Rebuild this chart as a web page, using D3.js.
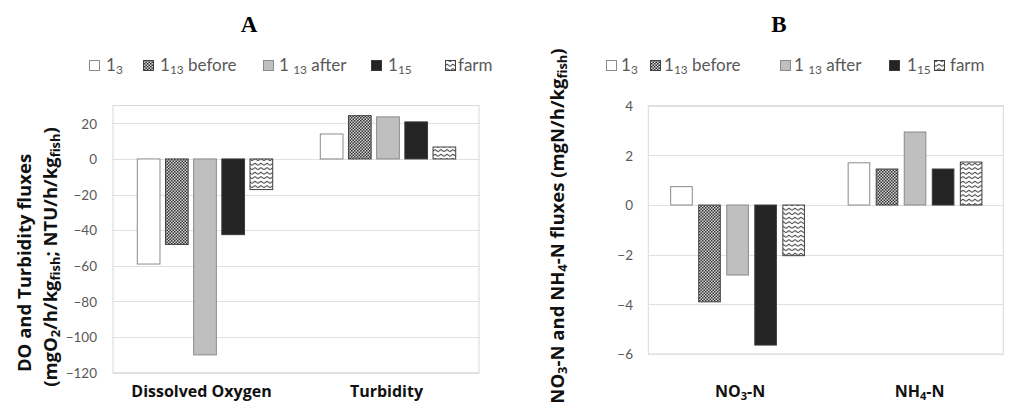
<!DOCTYPE html>
<html>
<head>
<meta charset="utf-8">
<script src="https://cdn.jsdelivr.net/npm/d3@7"></script>
<style>
  html, body { margin: 0; padding: 0; background: #fff; }
  svg { display: block; }
</style>
</head>
<body>
<svg id="chart" width="1021" height="412"></svg>
<script>
// ---------- DATA ----------
const seriesKeys = ["s3", "s13before", "s13after", "s15", "farm"];
const legendLabels = [
  [{t: "1"}, {t: "3", sub: true}],
  [{t: "1"}, {t: "13", sub: true}, {t: " before"}],
  [{t: "1 "}, {t: "13", sub: true}, {t: " after"}],
  [{t: "1"}, {t: "15", sub: true}],
  [{t: "farm"}]
];

const categoriesA = ["Dissolved Oxygen", "Turbidity"];
const valuesA_s3        = [-59, 14];
const valuesA_s13before = [-48, 24.3];
const valuesA_s13after  = [-110, 23.6];
const valuesA_s15       = [-42.5, 20.8];
const valuesA_farm      = [-17.2, 6.7];
const ticksA = [-120, -100, -80, -60, -40, -20, 0, 20];

const categoriesB = ["NO3-N", "NH4-N"];
const categoryLabelsB = [
  [{t: "NO"}, {t: "3", sub: true}, {t: "-N"}],
  [{t: "NH"}, {t: "4", sub: true}, {t: "-N"}]
];
const valuesB_s3        = [0.74, 1.70];
const valuesB_s13before = [-3.9, 1.45];
const valuesB_s13after  = [-2.82, 2.94];
const valuesB_s15       = [-5.64, 1.45];
const valuesB_farm      = [-2.04, 1.73];
const ticksB = [-6, -4, -2, 0, 2, 4];

// ---------- STYLE ----------
const svg = d3.select("#chart");
const defs = svg.append("defs");

// checker pattern (1_13 before)
const pChk = defs.append("pattern").attr("id", "pChk").attr("patternUnits", "userSpaceOnUse")
  .attr("width", 3).attr("height", 3);
pChk.append("rect").attr("width", 3).attr("height", 3).attr("fill", "#d4d4d4");
pChk.append("rect").attr("x", 0).attr("y", 0).attr("width", 1.5).attr("height", 1.5).attr("fill", "#333");
pChk.append("rect").attr("x", 1.5).attr("y", 1.5).attr("width", 1.5).attr("height", 1.5).attr("fill", "#333");

// zigzag pattern (farm)
const pZig = defs.append("pattern").attr("id", "pZig").attr("patternUnits", "userSpaceOnUse")
  .attr("width", 6).attr("height", 4.5);
pZig.append("rect").attr("width", 6).attr("height", 4.5).attr("fill", "#fff");
pZig.append("path").attr("d", "M0,3.2 L3,1.2 L6,3.2").attr("fill", "none")
  .attr("stroke", "#222").attr("stroke-width", 1);

const fills = {s3: "#ffffff", s13before: "url(#pChk)", s13after: "#bfbfbf", s15: "#242424", farm: "url(#pZig)"};
const strokes = {s3: "#8a8a8a", s13before: "#404040", s13after: "#8a8a8a", s15: "#3a3a3a", farm: "#404040"};

function rich(sel, parts) {
  parts.forEach(p => {
    const ts = sel.append("tspan").text(p.t);
    if (p.sub) ts.attr("baseline-shift", "-0.25em").attr("font-size", "70%");
  });
  return sel;
}

function drawChart(cfg) {
  const g = svg.append("g");
  const {x0, x1, y0, y1} = cfg.box;
  const y = d3.scaleLinear().domain(cfg.domain).range([y1, y0]);
  const xBand = d3.scaleBand().domain(cfg.categories).range([x0, x1])
    .paddingInner(cfg.groupPad).paddingOuter(cfg.groupPad / 2);
  const xSeries = d3.scaleBand().domain(seriesKeys).range([0, xBand.bandwidth()])
    .paddingInner(cfg.barPad).paddingOuter(cfg.barPad / 2);

  // plot border
  g.append("rect").attr("x", x0).attr("y", y0).attr("width", x1 - x0).attr("height", y1 - y0)
    .attr("fill", "none").attr("stroke", "#d9d9d9").attr("stroke-width", 1);

  // gridlines
  g.selectAll("line.grid").data(cfg.ticks).join("line")
    .attr("x1", x0).attr("x2", x1)
    .attr("y1", d => Math.round(y(d)) + 0.5).attr("y2", d => Math.round(y(d)) + 0.5)
    .attr("stroke", "#e0e0e0").attr("stroke-width", 1);

  // y axis via d3.axisLeft
  const axis = d3.axisLeft(y).tickValues(cfg.ticks).tickSize(0).tickPadding(0).tickFormat(d3.format("d"));
  const ag = g.append("g").attr("transform", `translate(${cfg.tickX},0)`).call(axis);
  ag.select(".domain").remove();
  ag.selectAll("text").attr("font-family", "Lato, 'Open Sans', sans-serif").attr("font-size", 13.5)
    .attr("fill", "#595959").attr("dy", "0.35em").attr("text-anchor", "end").attr("x", 0);

  // bars
  seriesKeys.forEach(k => {
    const vals = cfg.values[k];
    g.selectAll(null).data(cfg.categories.map((c, i) => ({c, v: vals[i]}))).join("rect")
      .attr("x", d => xBand(d.c) + xSeries(k) + 0.5)
      .attr("width", xSeries.bandwidth())
      .attr("y", d => y(Math.max(0, d.v)))
      .attr("height", d => Math.abs(y(d.v) - y(0)))
      .attr("fill", fills[k]).attr("stroke", strokes[k]).attr("stroke-width", 1);
  });

  // category labels
  cfg.categories.forEach((c, i) => {
    const t = g.append("text").attr("x", xBand(c) + xBand.bandwidth() / 2 + cfg.catDx[i]).attr("y", cfg.catY)
      .attr("text-anchor", "middle").attr("font-family", "'Open Sans', sans-serif")
      .attr("font-weight", "bold").attr("font-size", 16).attr("fill", "#111");
    rich(t, cfg.catLabels ? cfg.catLabels[i] : [{t: c}]);
  });

  // legend
  cfg.legend.forEach((L, i) => {
    const k = seriesKeys[i];
    g.append("rect").attr("x", L.sx + 0.5).attr("y", 60.5).attr("width", 10).attr("height", 10)
      .attr("fill", fills[k]).attr("stroke", strokes[k]);
    const t = g.append("text").attr("x", L.tx).attr("y", 71)
      .attr("font-family", "Lato, 'Open Sans', sans-serif").attr("font-size", 17).attr("fill", "#595959");
    rich(t, legendLabels[i]);
  });

  // panel title
  g.append("text").attr("x", cfg.titleX).attr("y", 32).attr("text-anchor", "middle")
    .attr("font-family", "'Liberation Serif', 'Times New Roman', serif").attr("font-weight", "bold")
    .attr("font-size", 23).attr("fill", "#000").text(cfg.title);

  // y-axis titles
  cfg.yTitles.forEach(yt => {
    const t = g.append("text").attr("transform", `translate(${yt.x},${yt.y}) rotate(-90)`)
      .attr("text-anchor", "middle").attr("font-family", "'Open Sans', sans-serif")
      .attr("font-weight", "bold").attr("font-size", yt.size).attr("fill", "#111");
    rich(t, yt.parts);
  });
}

drawChart({
  title: "A", titleX: 249,
  box: {x0: 113, x1: 479, y0: 105.5, y1: 372.7},
  domain: [-120, 30], ticks: ticksA, tickX: 97,
  categories: categoriesA, catDx: [-3, -1],
  values: {s3: valuesA_s3, s13before: valuesA_s13before, s13after: valuesA_s13after, s15: valuesA_s15, farm: valuesA_farm},
  groupPad: 0.23, barPad: 0.195, catY: 397,
  legend: [{sx: 89, tx: 106}, {sx: 143, tx: 160}, {sx: 263, tx: 279}, {sx: 371, tx: 388}, {sx: 445, tx: 458}],
  yTitles: [
    {x: 31, y: 263, size: 18.5, parts: [{t: "DO and Turbidity fluxes"}]},
    {x: 57, y: 257, size: 18.5, parts: [{t: "(mgO"}, {t: "2", sub: true}, {t: "/h/kg"}, {t: "fish", sub: true}, {t: "; NTU/h/kg"}, {t: "fish", sub: true}, {t: ")"}]}
  ]
});

drawChart({
  title: "B", titleX: 779,
  box: {x0: 648.3, x1: 1003.3, y0: 105.7, y1: 354},
  domain: [-6, 4], ticks: ticksB, tickX: 633,
  categories: categoriesB, catLabels: categoryLabelsB, catDx: [3, 5],
  values: {s3: valuesB_s3, s13before: valuesB_s13before, s13after: valuesB_s13after, s15: valuesB_s15, farm: valuesB_farm},
  groupPad: 0.21, barPad: 0.23, catY: 397,
  legend: [{sx: 606, tx: 621}, {sx: 650, tx: 664}, {sx: 780, tx: 794}, {sx: 889, tx: 907}, {sx: 934, tx: 950}],
  yTitles: [
    {x: 564, y: 226, size: 18.5, parts: [{t: "NO"}, {t: "3", sub: true}, {t: "-N and NH"}, {t: "4", sub: true}, {t: "-N fluxes (mgN/h/kg"}, {t: "fish", sub: true}, {t: ")"}]}
  ]
});
</script>
</body>
</html>
